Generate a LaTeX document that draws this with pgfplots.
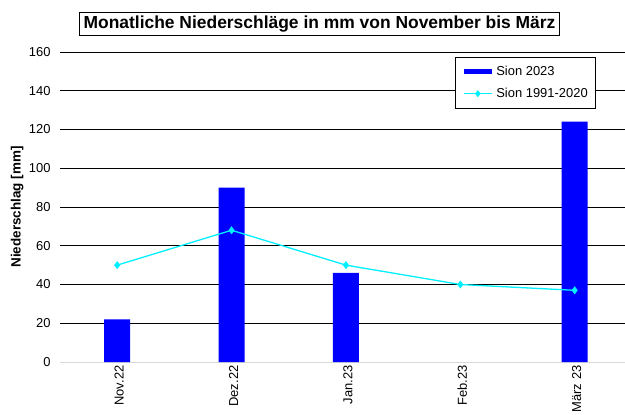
\documentclass[border=0pt]{standalone}
\usepackage{pgfplots}
\pgfplotsset{compat=1.18}
\usepackage{fontspec}
\setmainfont{Liberation Sans}
\definecolor{barblue}{RGB}{0,0,255}
\definecolor{linecyan}{RGB}{0,240,255}
\begin{document}
\begin{tikzpicture}[x=1bp,y=1bp]
\useasboundingbox (0,0) rectangle (625,414);
\node[draw=black, line width=1.2pt, inner xsep=4bp, inner ysep=3.5bp, font=\bfseries\fontsize{17.5}{20}\selectfont] at (319.5,390) {Monatliche Niederschläge in mm von November bis März};
\begin{axis}[
  at={(60bp,52bp)}, anchor=south west,
  scale only axis, width=565bp, height=310bp,
  xmin=-0.5, xmax=4.44,
  ymin=0, ymax=160,
  xtick={0,1,2,3,4},
  xticklabels={Nov.22,Dez.22,Jan.23,Feb.23,März 23},
  x tick label style={rotate=90, anchor=east, font=\fontsize{13}{15}\selectfont, yshift=-2bp},
  ytick={20,40,...,160},
  extra y ticks={0},
  extra y tick style={grid style={gray!30, line width=1pt}},
  ymajorgrids, grid style={black, line width=0.8pt},
  y tick label style={font=\fontsize{13}{15}\selectfont, xshift=-6bp},
  /pgf/number format/assume math mode=true,
  axis line style={draw=none},
  tick style={draw=none},
  ylabel={Niederschlag [mm]},
  ylabel style={at={(axis description cs:-0.076,0.5)}, anchor=center, font=\bfseries\fontsize{13.5}{15}\selectfont},
  legend style={at={(rel axis cs:0.699,0.984)}, anchor=north west, draw=black, line width=0.8pt, font=\fontsize{13}{15}\selectfont, row sep=7bp, inner xsep=6bp, inner ysep=7bp},
  legend cell align=left,
]
\addplot[ybar, bar width=26bp, fill=barblue, draw=none,
  legend image code/.code={\draw[barblue, line width=5bp] (0bp,0bp) -- (28bp,0bp);}]
  coordinates {(0,22) (1,90) (2,46) (4,124)};
\addlegendentry{Sion 2023}
\addplot[linecyan, line width=1.3pt, mark=diamond*, mark size=3bp, mark options={fill=linecyan, draw=linecyan},
  legend image code/.code={\draw[linecyan, line width=1.3pt] (0bp,0bp) -- (28bp,0bp); \fill[linecyan] (14bp,0bp) ++(0,2.5bp) -- ++(2bp,-2.5bp) -- ++(-2bp,-2.5bp) -- ++(-2bp,2.5bp) -- cycle;}]
  coordinates {(0,50) (1,68) (2,50) (3,40) (4,37)};
\addlegendentry{Sion 1991-2020}
\end{axis}
\end{tikzpicture}
\end{document}
